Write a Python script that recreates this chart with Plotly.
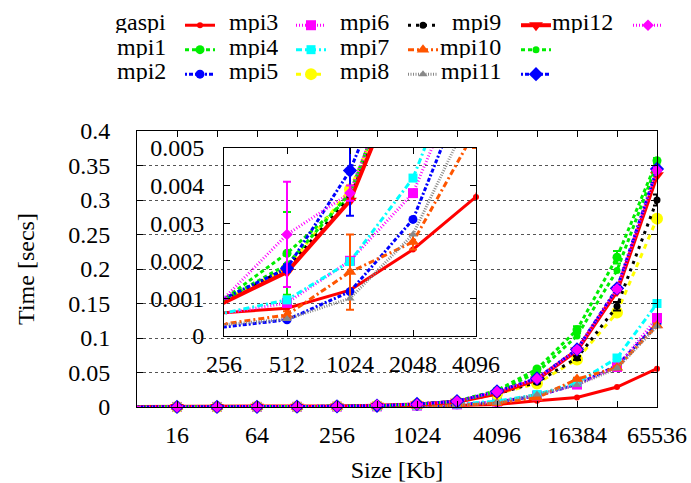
import math
import plotly.graph_objects as go

# message sizes in Kb
sizes = [8, 16, 32, 64, 128, 256, 512, 1024, 2048, 4096, 8192, 16384, 32768, 65536]

# mean times in seconds
gaspi = [0.00005, 0.00006, 0.00008, 0.00012, 0.00022, 0.00062, 0.00074, 0.00122, 0.0023, 0.0037, 0.0092, 0.0138, 0.0290, 0.0555]
mpi1 = [0.00009, 0.00011, 0.00015, 0.00022, 0.00042, 0.00098, 0.0022, 0.0037, 0.0085, 0.0240, 0.0550, 0.1120, 0.2170, 0.3570]
mpi2 = [0.00003, 0.00004, 0.00005, 0.00007, 0.00012, 0.00024, 0.00043, 0.00118, 0.0031, 0.0073, 0.0160, 0.0330, 0.0600, 0.1210]
mpi3 = [0.00008, 0.00010, 0.00013, 0.00020, 0.00032, 0.00060, 0.00088, 0.0020, 0.0038, 0.0078, 0.0165, 0.0325, 0.0580, 0.1290]
mpi4 = [0.00008, 0.00010, 0.00013, 0.00020, 0.00033, 0.00061, 0.00096, 0.00198, 0.0042, 0.0085, 0.0180, 0.0355, 0.0710, 0.1500]
mpi5 = [0.00009, 0.00011, 0.00015, 0.00022, 0.00040, 0.00095, 0.0018, 0.0039, 0.0078, 0.0190, 0.0340, 0.0690, 0.1370, 0.2730]
mpi6 = [0.00009, 0.00011, 0.00015, 0.00022, 0.00040, 0.00095, 0.0018, 0.0037, 0.0078, 0.0190, 0.0360, 0.0710, 0.1460, 0.3000]
mpi7 = [0.00004, 0.00005, 0.00007, 0.00010, 0.00017, 0.00032, 0.00056, 0.0017, 0.0025, 0.0055, 0.0135, 0.0405, 0.0570, 0.1180]
mpi8 = [0.00003, 0.00004, 0.00006, 0.00009, 0.00015, 0.00030, 0.00045, 0.0010, 0.0027, 0.0062, 0.0180, 0.0320, 0.0560, 0.1170]
mpi9 = [0.00008, 0.00010, 0.00014, 0.00021, 0.00038, 0.00089, 0.0017, 0.0036, 0.0077, 0.0195, 0.0400, 0.0820, 0.1680, 0.3360]
mpi10 = [0.00009, 0.00011, 0.00015, 0.00022, 0.00041, 0.00096, 0.0019, 0.0038, 0.0082, 0.0220, 0.0500, 0.1030, 0.1980, 0.3520]
mpi11 = [0.00010, 0.00012, 0.00016, 0.00023, 0.00043, 0.00100, 0.0018, 0.0044, 0.0085, 0.0226, 0.0415, 0.0835, 0.1720, 0.3450]
mpi12 = [0.00010, 0.00012, 0.00016, 0.00023, 0.00043, 0.00100, 0.0027, 0.0038, 0.0083, 0.0222, 0.0410, 0.0830, 0.1710, 0.3430]

# standard deviations where they are noticeable
err_mpi1 = [0, 0, 0, 0, 0, 0, 0.0011, 0.0001, 0.0002, 0.0010, 0.0020, 0.0050, 0.0090, 0.0040]
err_mpi6 = [0, 0, 0, 0, 0, 0, 0.0001, 0.0001, 0.0002, 0.0008, 0.0020, 0.0030, 0.0060, 0.0080]
err_mpi7 = [0, 0, 0, 0, 0, 0, 0.0001, 0.0010, 0.0002, 0.0005, 0.0010, 0.0020, 0.0020, 0.0030]
err_mpi11 = [0, 0, 0, 0, 0, 0, 0.0001, 0.0012, 0.0002, 0.0005, 0.0010, 0.0020, 0.0030, 0.0040]
err_mpi12 = [0, 0, 0, 0, 0, 0, 0.0014, 0.0002, 0.0002, 0.0005, 0.0010, 0.0020, 0.0030, 0.0040]

x_tick_labels = ["", "16", "", "64", "", "256", "", "1024", "", "4096", "", "16384", "", "65536"]
y_ticks = [0, 0.05, 0.1, 0.15, 0.2, 0.25, 0.3, 0.35, 0.4]
y_tick_labels = ["0", "0.05", "0.1", "0.15", "0.2", "0.25", "0.3", "0.35", "0.4"]
inset_x_ticks = [256, 512, 1024, 2048, 4096]
inset_y_ticks = [0, 0.001, 0.002, 0.003, 0.004, 0.005]
inset_y_labels = ["0", "0.001", "0.002", "0.003", "0.004", "0.005"]

FONT = '"Liberation Serif", "Times New Roman", serif'
W, H = 691, 483
L, R, T, B = 137, 34, 131, 76
PW, PH = W - L - R, H - T - B

def px_x(p):
    return (p - L) / PW

def px_y(p):
    return (H - B - p) / PH

series = [
    # name, values, errors, colour, dash, width, symbol, size
    ("gaspi", gaspi, None, "#ff0000", "solid", 3, "circle", 6),
    ("mpi1", mpi1, err_mpi1, "#00ee00", "4px,3px", 3, "circle", 9),
    ("mpi2", mpi2, None, "#0000ff", "2px,2px,4px,2px", 3, "circle", 9),
    ("mpi3", mpi3, None, "#ff00ff", "1px,2px", 3, "square", 10),
    ("mpi4", mpi4, None, "#00ffff", "6px,3px,2px,3px", 3, "square", 9),
    ("mpi5", mpi5, None, "#ffff00", "5px,5px", 3, "circle", 12),
    ("mpi6", mpi6, err_mpi6, "#000000", "3px,5px", 3, "circle", 7),
    ("mpi7", mpi7, err_mpi7, "#ff5500", "6px,3px,2px,3px", 3, "triangle-up", 11),
    ("mpi8", mpi8, None, "#888888", "1px,1.5px", 3, "triangle-up", 8),
    ("mpi9", mpi9, None, "#ff0000", "solid", 4, "triangle-down", 12),
    ("mpi10", mpi10, None, "#00ee00", "4px,3px", 3, "circle", 7),
    ("mpi11", mpi11, err_mpi11, "#0000ff", "2px,2px,4px,2px", 3, "diamond", 11),
    ("mpi12", mpi12, err_mpi12, "#ff00ff", "1px,2px", 3, "diamond", 9),
]

# key layout: five columns, label to the left of the sample
key_columns = [["gaspi", "mpi1", "mpi2"], ["mpi3", "mpi4", "mpi5"], ["mpi6", "mpi7", "mpi8"],
               ["mpi9", "mpi10", "mpi11"], ["mpi12"]]
key_label_right = [168, 280, 391, 503, 615]
key_sample_left = [185, 296, 408, 521, 633]
key_rows = [22, 46.5, 71]

legend_of = {}
for ci, col in enumerate(key_columns):
    for name in col:
        legend_of[name] = "legend" if ci == 0 else f"legend{ci + 1}"

fig = go.Figure()
for name, vals, err, color, dash, lw, sym, msz in series:
    eb = dict(type="data", array=err, visible=True, color=color, thickness=2, width=4) if err else None
    fig.add_trace(go.Scatter(
        x=sizes, y=vals, name=" ", mode="lines+markers",
        line=dict(color=color, width=lw, dash=dash),
        marker=dict(symbol=sym, size=msz, color=color, line=dict(width=0)),
        error_y=eb, cliponaxis=False, legend=legend_of[name],
        xaxis="x", yaxis="y",
    ))

# zoomed inset: lines clipped to the box, markers drawn in full
for name, vals, err, color, dash, lw, sym, msz in series:
    eb = dict(type="data", array=err, visible=True, color=color, thickness=2, width=4) if err else None
    fig.add_trace(go.Scatter(
        x=sizes, y=vals, mode="lines", showlegend=False,
        line=dict(color=color, width=lw, dash=dash), error_y=eb,
        xaxis="x2", yaxis="y2",
    ))
    inside = [(s, v) for s, v in zip(sizes, vals) if 256 <= s <= 4096 and v <= 0.005]
    fig.add_trace(go.Scatter(
        x=[s for s, _ in inside], y=[v for _, v in inside], mode="markers", showlegend=False,
        marker=dict(symbol=sym, size=msz, color=color, line=dict(width=0)),
        cliponaxis=False, xaxis="x2", yaxis="y2",
    ))

tickfont = dict(family=FONT, size=24, color="black")
axis_common = dict(showline=True, linecolor="black", linewidth=1, ticks="inside", mirror="ticks",
                   tickcolor="black", ticklen=6, tickfont=tickfont, zeroline=False, automargin=False)

layout = dict(
    width=W, height=H, margin=dict(l=L, r=R, t=T, b=B, autoexpand=False),
    paper_bgcolor="white", plot_bgcolor="rgba(0,0,0,0)",
    font=dict(family=FONT, size=24, color="black"),
    xaxis=dict(type="log", range=[math.log10(8), math.log10(65536)], tickvals=sizes,
               ticktext=x_tick_labels, showgrid=False, ticklabelstandoff=6,
               title=dict(text="Size [Kb]", font=dict(family=FONT, size=24), standoff=18),
               **axis_common),
    yaxis=dict(range=[0, 0.4], tickvals=y_ticks, ticktext=y_tick_labels, showgrid=True,
               gridcolor="#555555", griddash="dot", gridwidth=1, ticklabelstandoff=21,
               title=dict(text="Time [secs]", font=dict(family=FONT, size=24), standoff=26),
               **axis_common),
    xaxis2=dict(type="log", range=[math.log10(256), math.log10(4096)], tickvals=inset_x_ticks,
                ticktext=[str(v) for v in inset_x_ticks], showgrid=False, anchor="y2",
                domain=[px_x(224), px_x(476)], ticklabelstandoff=6, **axis_common),
    yaxis2=dict(range=[0, 0.005], tickvals=inset_y_ticks, ticktext=inset_y_labels, showgrid=False,
                anchor="x2", domain=[px_y(336), px_y(148)], ticklabelstandoff=14, **axis_common),
    showlegend=True,
)

annotations = []
for ci, col in enumerate(key_columns):
    key = "legend" if ci == 0 else f"legend{ci + 1}"
    layout[key] = dict(
        x=px_x(key_sample_left[ci] - 5), y=px_y(key_rows[0] - 14), xanchor="left", yanchor="top",
        bgcolor="rgba(0,0,0,0)", borderwidth=0, font=dict(family=FONT, size=16.5),
        tracegroupgap=0, orientation="v",
    )
    for ri, name in enumerate(col):
        annotations.append(dict(
            text=name, x=px_x(key_label_right[ci]), y=px_y(key_rows[ri]), xref="paper", yref="paper",
            xanchor="right", yanchor="middle", showarrow=False, height=22,
            font=dict(family=FONT, size=24),
        ))
layout["annotations"] = annotations

fig.update_layout(**layout)
fig.write_html("out.html")
